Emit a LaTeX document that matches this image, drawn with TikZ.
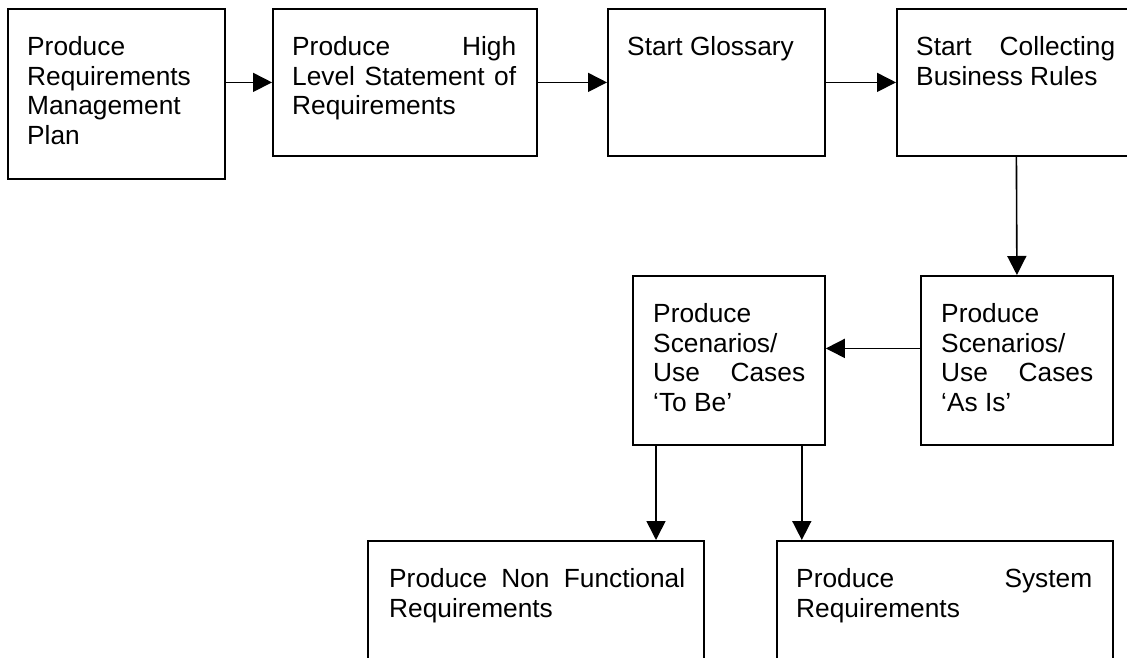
\documentclass[tikz,border=0pt]{standalone}
\usepackage{fontspec}
\setmainfont{Liberation Sans}
\usetikzlibrary{arrows.meta, positioning}
% justified box texts, never hyphenated
\tolerance=10000
\hyphenpenalty=10000

\begin{document}
\begin{tikzpicture}[
  x=1pt, y=-1pt,
  box/.style   = {draw, line width=1.8pt, anchor=north west, inner sep=0pt},
  txt/.style   = {align=justify, inner sep=0pt,
                  font=\fontsize{26.3}{29.8}\selectfont},
  arrow/.style = {-{Triangle[length=19pt, width=19pt]}, line width=1.6pt},
]
\useasboundingbox (0,0) rectangle (1127,658);
\clip (0,0) rectangle (1127,658);

% Row 1
\node[box, minimum width=217pt, minimum height=170pt] (plan)  at (7,8)   {};
\node[box, minimum width=264pt, minimum height=147pt] (stmt)  at (272,8) {};
\node[box, minimum width=217pt, minimum height=147pt] (gloss) at (607,8) {};
\node[box, minimum width=239pt, minimum height=147pt] (rules) at (896,8) {};

% Row 2
\node[box, minimum width=192pt, minimum height=169pt] (tobe) at (632,275) {};
\node[box, minimum width=192pt, minimum height=169pt] (asis) at (920,275) {};

% Row 3
\node[box, minimum width=336pt, minimum height=140pt] (nonfunc) at (367,540) {};
\node[box, minimum width=336pt, minimum height=140pt] (sysreq)  at (776,540) {};

% Texts
\node[txt, text width=177pt, below right=28pt and 20pt of plan.north west]  (plantxt)
  {Produce Requirements Management Plan};
\node[txt, text width=224pt, below right=28pt and 20pt of stmt.north west]  (stmttxt)
  {Produce High Level Statement of Requirements};
\node[txt, text width=177pt, below right=28pt and 20pt of gloss.north west] (glosstxt)
  {Start Glossary};
\node[txt, text width=199pt, below right=28pt and 20pt of rules.north west] (rulestxt)
  {Start Collecting Business Rules};
\node[txt, text width=152pt, below right=28pt and 21pt of tobe.north west]  (tobetxt)
  {Produce Scenarios/ Use Cases ‘To Be’};
\node[txt, text width=152pt, below right=28pt and 21pt of asis.north west]  (asistxt)
  {Produce Scenarios/ Use Cases ‘As Is’};
\node[txt, text width=296pt, below right=28pt and 22pt of nonfunc.north west] (nonfunctxt)
  {Produce Non Functional Requirements};
\node[txt, text width=296pt, below right=28pt and 20pt of sysreq.north west]  (sysreqtxt)
  {Produce System Requirements};

% Arrows
\draw[arrow] (plan.east |- stmt.west) -- (stmt.west);
\draw[arrow] (stmt)  -- (gloss);
\draw[arrow] (gloss) -- (rules);
\draw[arrow] (rules.south) -- (asis.north);
\draw[arrow] ([yshift=12pt]asis.west) -- ([yshift=12pt]tobe.east);
\draw[arrow] ([xshift=24pt]tobe.south west)  -- ([xshift=24pt]tobe.south west |- nonfunc.north);
\draw[arrow] ([xshift=-24pt]tobe.south east) -- ([xshift=-24pt]tobe.south east |- sysreq.north);

\end{tikzpicture}
\end{document}
